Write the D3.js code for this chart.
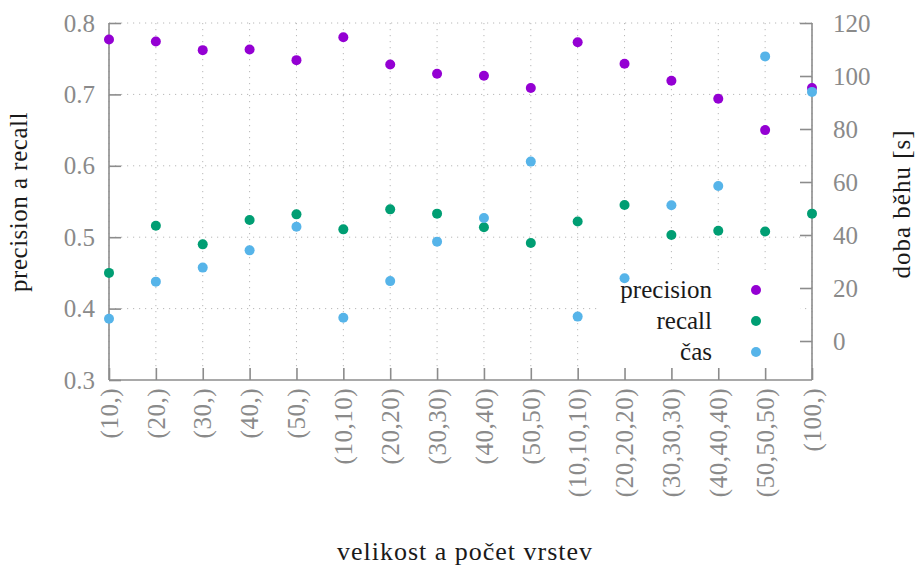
<!DOCTYPE html>
<html>
<head>
<meta charset="utf-8">
<script src="https://cdn.jsdelivr.net/npm/d3@7/dist/d3.min.js"></script>
<style>
body { margin: 0; background: #fff; }
svg text { font-family: "Times New Roman", "Liberation Serif", "DejaVu Serif", "Noto Serif", FreeSerif, Times, serif; }
.grid line { stroke: #b8b8b8; stroke-width: 1; stroke-dasharray: 1.2,4.8; }
</style>
</head>
<body>
<svg id="chart" width="918" height="565"></svg>
<script>
// data
var categories = ["(10,)", "(20,)", "(30,)", "(40,)", "(50,)",
    "(10,10)", "(20,20)", "(30,30)", "(40,40)", "(50,50)",
    "(10,10,10)", "(20,20,20)", "(30,30,30)", "(40,40,40)", "(50,50,50)", "(100,)"];
var precision = [0.777, 0.774, 0.762, 0.763, 0.748, 0.780, 0.742, 0.729, 0.726, 0.709,
    0.773, 0.743, 0.719, 0.694, 0.650, 0.709];
var recall = [0.450, 0.516, 0.490, 0.524, 0.532, 0.511, 0.539, 0.533, 0.514, 0.492,
    0.522, 0.545, 0.503, 0.509, 0.508, 0.533];
var cas = [8.4, 22.4, 27.7, 34.2, 43.1, 8.8, 22.6, 37.5, 46.4, 67.7,
    9.2, 23.7, 51.2, 58.5, 107.4, 94.0];
var leftTicks = [0.3, 0.4, 0.5, 0.6, 0.7, 0.8];
var rightTicks = [0, 20, 40, 60, 80, 100, 120];
var legendNames = ["precision", "recall", "čas"];

// plot box (don't call it "top", that's window.top)
var pL = 109, pR = 812, pT = 23, pB = 380;
var tickLen = 12;
var axisColor = "#8c8c8c";
var labelColor = "#8a8a8a";
var textColor = "#1a1a1a";

var svg = d3.select("#chart");

var x = d3.scalePoint().domain(categories).range([pL, pR]).padding(0);
var yL = d3.scaleLinear().domain([0.3, 0.8]).range([pB, pT]);
var yR = d3.scaleLinear().domain([0, 120]).range([341, pT]);

// grid
var grid = svg.append("g").attr("class", "grid");
grid.selectAll("line.h")
    .data(leftTicks.filter(function (d) { return d > 0.3; }))
    .enter().append("line")
        .attr("x1", pL).attr("x2", pR)
        .attr("y1", function (d) { return yL(d); })
        .attr("y2", function (d) { return yL(d); });
grid.selectAll("line.v")
    .data(categories)
    .enter().append("line")
        .attr("x1", function (d) { return x(d); })
        .attr("x2", function (d) { return x(d); })
        .attr("y1", pT).attr("y2", pB - tickLen);

// legend background (hides grid under it)
svg.append("rect")
    .attr("x", 597).attr("y", 270)
    .attr("width", 203).attr("height", 97)
    .attr("fill", "#fff");

// axes
var axL = svg.append("g").attr("transform", "translate(" + pL + ",0)")
    .call(d3.axisLeft(yL).tickValues(leftTicks).tickSize(-tickLen).tickPadding(14)
        .tickFormat(d3.format(".1f")));
var axR = svg.append("g").attr("transform", "translate(" + pR + ",0)")
    .call(d3.axisRight(yR).tickValues(rightTicks).tickSize(-tickLen).tickPadding(21));
var axB = svg.append("g").attr("transform", "translate(0," + pB + ")")
    .call(d3.axisBottom(x).tickSize(-tickLen).tickPadding(8));

[axL, axR, axB].forEach(function (ax) {
    ax.attr("font-family", null);
    ax.select(".domain").attr("stroke", axisColor).attr("stroke-width", 1.6);
    ax.selectAll(".tick line").attr("stroke", axisColor).attr("stroke-width", 1.6);
    ax.selectAll("text").attr("fill", labelColor)
        .style("font-size", "25px");
});
axL.select(".domain").attr("d", "M0," + pB + "V" + pT);
axR.select(".domain").attr("d", "M0," + pB + "V" + pT);
axB.select(".domain").attr("d", "M" + pL + ",0H" + pR);
axB.selectAll(".tick text")
    .attr("transform", "rotate(-90)")
    .attr("text-anchor", "end")
    .style("letter-spacing", "0.5px")
    .attr("x", -8).attr("y", 0).attr("dy", "0.33em");

// series
var colors = ["#9400d3", "#009e73", "#56b4e9"];
function dots(values, scale, color) {
    svg.append("g").selectAll("circle")
        .data(values)
        .enter().append("circle")
            .attr("cx", function (d, i) { return x(categories[i]); })
            .attr("cy", function (d) { return scale(d); })
            .attr("r", 5)
            .attr("fill", color);
}
dots(precision, yL, colors[0]);
dots(recall, yL, colors[1]);
dots(cas, yR, colors[2]);

// legend
var lg = svg.append("g");
legendNames.forEach(function (name, i) {
    var ly = 290 + i * 31;
    lg.append("text")
        .attr("x", 712).attr("y", ly).attr("dy", "0.32em")
        .attr("text-anchor", "end")
        .style("font-size", "25px").attr("fill", textColor)
        .text(name);
    lg.append("circle")
        .attr("cx", 756).attr("cy", ly).attr("r", 5)
        .attr("fill", colors[i]);
});

// titles
svg.append("text")
    .attr("transform", "translate(27,202) rotate(-90)")
    .attr("text-anchor", "middle")
    .style("font-size", "25px").style("letter-spacing", "0.5px")
    .attr("fill", textColor)
    .text("precision a recall");
svg.append("text")
    .attr("transform", "translate(910,204) rotate(-90)")
    .attr("text-anchor", "middle")
    .style("font-size", "25px").style("letter-spacing", "1px")
    .attr("fill", textColor)
    .text("doba běhu [s]");
svg.append("text")
    .attr("x", 465).attr("y", 560)
    .attr("text-anchor", "middle")
    .style("font-size", "26px").style("letter-spacing", "1px")
    .attr("fill", textColor)
    .text("velikost a počet vrstev");
</script>
</body>
</html>
